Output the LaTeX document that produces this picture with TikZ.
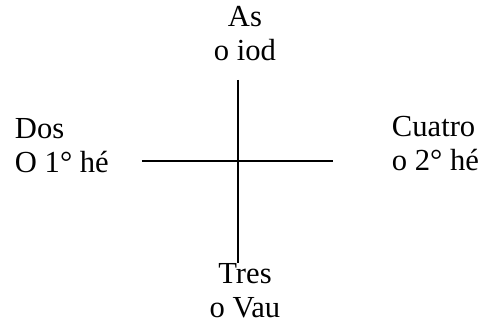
\documentclass[tikz,border=0pt]{standalone}
\usepackage{fontspec}
\setmainfont{Liberation Serif}

\begin{document}
\begin{tikzpicture}[
  x=0.5pt,
  y=0.5pt,
  every node/.style={inner sep=0pt, outer sep=0pt},
  armlabel/.style={font=\fontsize{15.3}{17}\selectfont, text=black, align=center},
  sidelabel/.style={font=\fontsize{15.3}{17}\selectfont, text=black, align=left, anchor=west},
  arm/.style={draw=black, line width=1pt}
]

  \path[use as bounding box] (0,0) rectangle (484,326);

  % Cross.
  \coordinate (armtop) at (238,246);
  \coordinate (armbottom) at (238,63);
  \coordinate (armleft) at (142,165);
  \coordinate (armright) at (333,165);
  \draw[arm] (armtop) -- (armbottom);
  \draw[arm] (armleft) -- (armright);

  % Labels at the four ends.
  \node[armlabel] (as) at (245,292) {As\\o iod};
  \node[armlabel] (tres) at (245,35) {Tres\\o Vau};
  \node[sidelabel] (dos) at (15,180) {Dos\\O 1° hé};
  \node[sidelabel] (cuatro) at (392,182) {Cuatro\\o 2° hé};

\end{tikzpicture}
\end{document}
